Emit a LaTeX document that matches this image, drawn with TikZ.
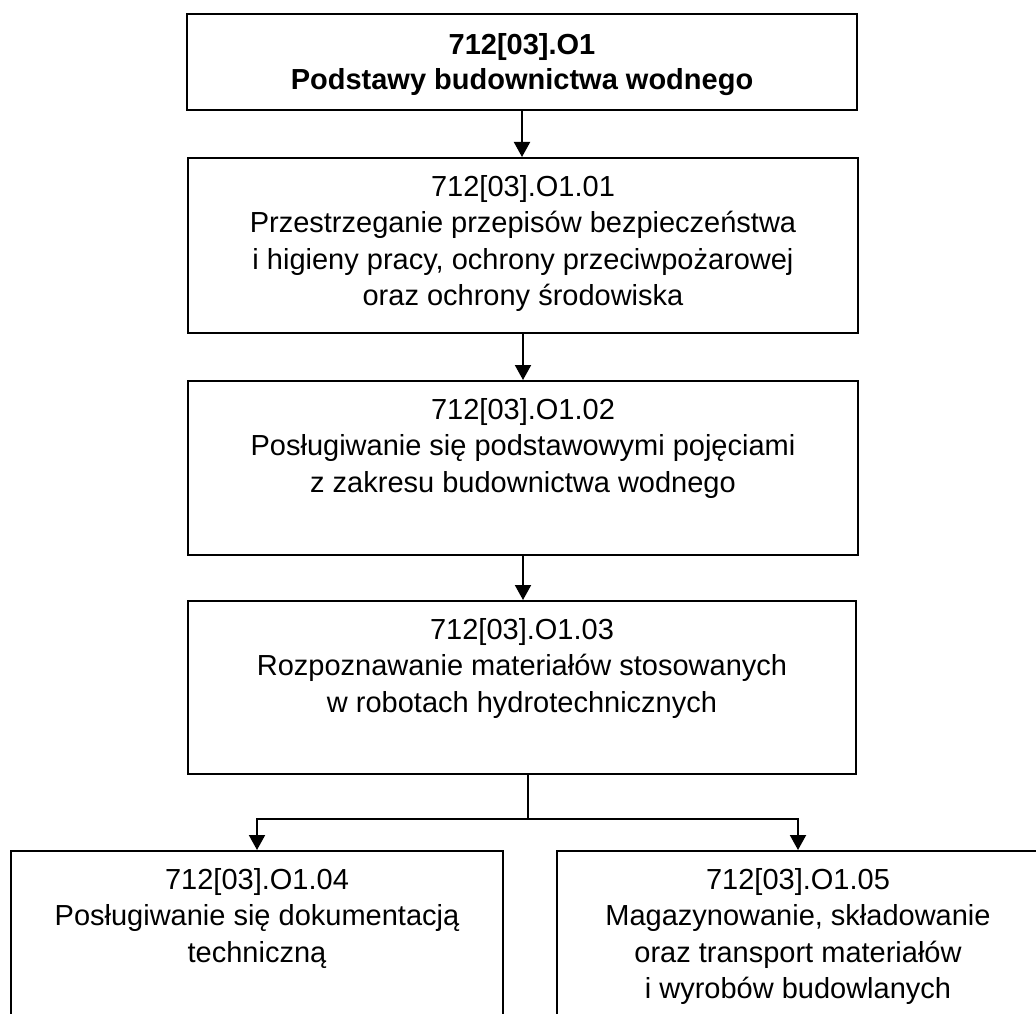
\documentclass[tikz,border=0pt]{standalone}
\usepackage{fontspec}
\setmainfont{Liberation Sans}
\usetikzlibrary{arrows.meta}
\begin{document}
\begin{tikzpicture}[x=1pt,y=-1pt,
  box/.style={draw, line width=2pt, inner sep=0pt, anchor=north west},
  lbl/.style={align=center, anchor=north, inner sep=0pt, font=\fontsize{29}{36.5}\selectfont},
  arr/.style={line width=2pt, -{Triangle[length=15pt,width=16pt]}},
  ln/.style={line width=2pt}]
\useasboundingbox (0,0) rectangle (1036,1014);
\clip (0,0) rectangle (1036,1014);
\fill[white] (0,0) rectangle (1036,1014);
\node[box, minimum width=670pt, minimum height=96pt] (b1) at (186,13) {};
\node[box, minimum width=670pt, minimum height=175pt] (b2) at (187,157) {};
\node[box, minimum width=670pt, minimum height=174pt] (b3) at (187,380) {};
\node[box, minimum width=668pt, minimum height=173pt] (b4) at (187,600) {};
\node[box, minimum width=492pt, minimum height=220pt] (b5) at (10,850) {};
\node[box, minimum width=482pt, minimum height=220pt] (b6) at (556,850) {};
\node[lbl, font=\fontsize{29}{35}\selectfont\bfseries] (t1) at ([yshift=-20pt]b1.north) {712[03].O1\\Podstawy budownictwa wodnego};
\node[lbl] (t2) at ([yshift=-18pt]b2.north) {712[03].O1.01\\Przestrzeganie przepisów bezpieczeństwa\\i higieny pracy, ochrony przeciwpożarowej\\oraz ochrony środowiska};
\node[lbl] (t3) at ([yshift=-18pt]b3.north) {712[03].O1.02\\Posługiwanie się podstawowymi pojęciami\\z zakresu budownictwa wodnego};
\node[lbl] (t4) at ([yshift=-18pt]b4.north) {712[03].O1.03\\Rozpoznawanie materiałów stosowanych\\w robotach hydrotechnicznych};
\node[lbl] (t5) at ([yshift=-18pt]b5.north) {712[03].O1.04\\Posługiwanie się dokumentacją\\techniczną};
\node[lbl] (t6) at ([yshift=-18pt]b6.north) {712[03].O1.05\\Magazynowanie, składowanie\\oraz transport materiałów\\i wyrobów budowlanych};
\draw[arr] (b1.south) -- (b1.south |- b2.north);
\draw[arr] (b2.south) -- (b2.south |- b3.north);
\draw[arr] (b3.south) -- (b3.south |- b4.north);
\coordinate (j) at (528,819);
\draw[ln] (j |- b4.south) -- (j);
\draw[arr] (j) -| (b5.north);
\draw[arr] (j) -| (b6.north);
\end{tikzpicture}
\end{document}
